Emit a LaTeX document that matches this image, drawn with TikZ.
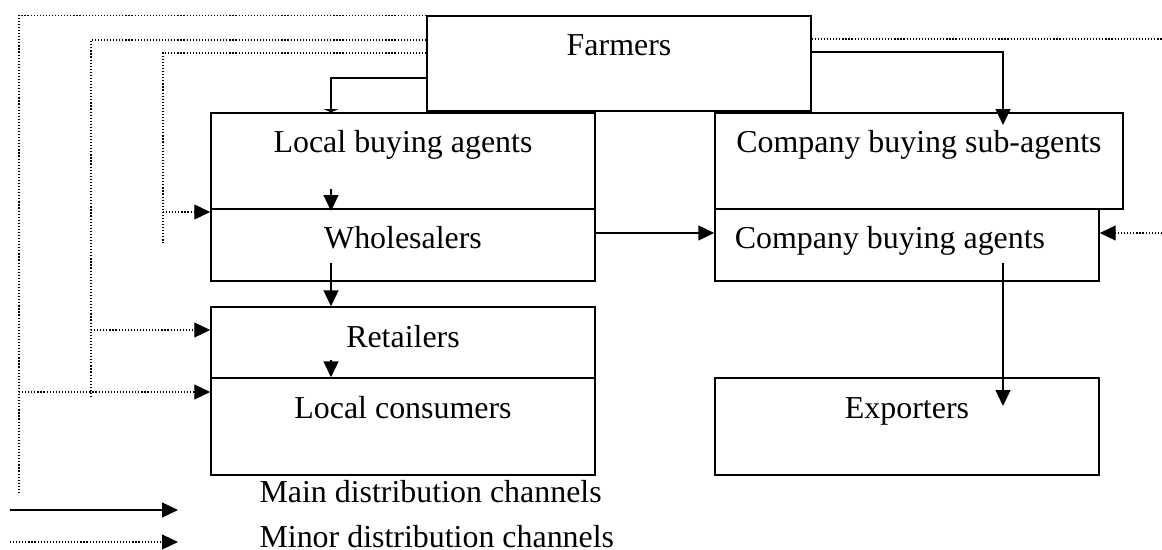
\documentclass[tikz,border=0pt]{standalone}
\usepackage{fontspec}
\setmainfont{Liberation Serif}
\usetikzlibrary{arrows.meta}
\newdimen\pxu
\pxu=0.376pt
\tikzset{>={Triangle[length=6pt,width=5.6pt]}}
\tikzset{stage/.style={draw, fill=white, line width=0.55pt, inner sep=0pt, font=\fontsize{12pt}{14pt}\selectfont},
	keytext/.style={anchor=base west, inner sep=0pt, font=\fontsize{12pt}{14pt}\selectfont},
	mainline/.style={->, line width=0.55pt},
	minorline/.style={->, line width=0.5pt, dash pattern=on 0.45pt off 0.7pt}}

\begin{document}
\begin{tikzpicture}[x=0.376pt, y=-0.376pt]
	\useasboundingbox (0,0) rectangle (1162,550);

	\node[stage, minimum width=384\pxu, minimum height=95\pxu, text height=40\pxu, text depth=55\pxu] (farmers) at (619,63.5) {Farmers};
	\node[stage, minimum width=384\pxu, minimum height=96\pxu, text height=40\pxu, text depth=56\pxu] (localagents) at (403,161) {Local buying agents};
	\node[stage, minimum width=384\pxu, minimum height=72\pxu, text height=39\pxu, text depth=33\pxu] (wholesalers) at (403,245) {Wholesalers};
	\node[stage, minimum width=408\pxu, minimum height=96\pxu, text height=40\pxu, text depth=56\pxu] (subagents) at (919,161) {Company buying sub-agents};
	\node[stage, minimum width=384\pxu, minimum height=72\pxu, text height=39\pxu, text depth=33\pxu] (coagents) at (907,245) {Company buying agents\kern34\pxu};
	\node[stage, minimum width=384\pxu, minimum height=71\pxu, text height=40\pxu, text depth=31\pxu] (retailers) at (403,342.5) {Retailers};
	\node[stage, minimum width=384\pxu, minimum height=97\pxu, text height=41\pxu, text depth=56\pxu] (consumers) at (403,426.5) {Local consumers};
	\node[stage, minimum width=384\pxu, minimum height=97\pxu, text height=40\pxu, text depth=57\pxu] (exporters) at (907,426.5) {Exporters};

	\coordinate (outerend) at (19,494);
	\coordinate (midend) at (91,398);
	\coordinate (innerend) at (163,243);
	\draw[minorline,-] (farmers.north west) -| (outerend);
	\draw[minorline,-] (farmers.west |- 0,40) -| (midend);
	\draw[minorline,-] (farmers.west |- 0,53) -| (innerend);
	\draw[minorline] (innerend |- 0,212) -- (wholesalers.west |- 0,212);
	\draw[minorline] (midend |- 0,330) -- (retailers.west |- 0,330);
	\draw[minorline] (outerend |- 0,392) -- (consumers.west |- 0,392);

	\coordinate (rimtop) at (1162,39);
	\coordinate (rimlow) at (1162,233);
	\draw[minorline,-] (farmers.east |- rimtop) -- (rimtop);
	\draw[minorline] (rimlow) -- (coagents.east |- rimlow);

	\coordinate (subtip) at (1003,125);
	\coordinate (agtop) at (1003,263);
	\coordinate (exptip) at (1003,406);
	\draw[mainline] (farmers.east |- 0,52) -| (subtip);
	\draw[mainline] (wholesalers.east |- 0,233) -- (coagents.west |- 0,233);
	\draw[mainline] (agtop) -- (exptip);

	\coordinate (lbastart) at (331,189);
	\coordinate (whstart) at (331,263);
	\coordinate (retstart) at (331,360);
	\draw[mainline, -{Triangle[length=1.2pt,width=5.6pt]}] (farmers.west |- 0,78) -| (localagents.north -| lbastart);
	\draw[mainline] (lbastart) -- (lbastart |- 0,211);
	\draw[mainline] (whstart) -- (retailers.north -| whstart);
	\draw[mainline] (retstart) -- (consumers.north -| retstart);

	\coordinate (keymain) at (10,510);
	\coordinate (keyminor) at (10,542);
	\draw[mainline] (keymain) -- ++(168,0);
	\draw[minorline] (keyminor) -- ++(168,0);
	\node[keytext] (mainlbl) at (259,502) {Main distribution channels};
	\node[keytext] (minorlbl) at (259,547) {Minor distribution channels};

\end{tikzpicture}
\end{document}
